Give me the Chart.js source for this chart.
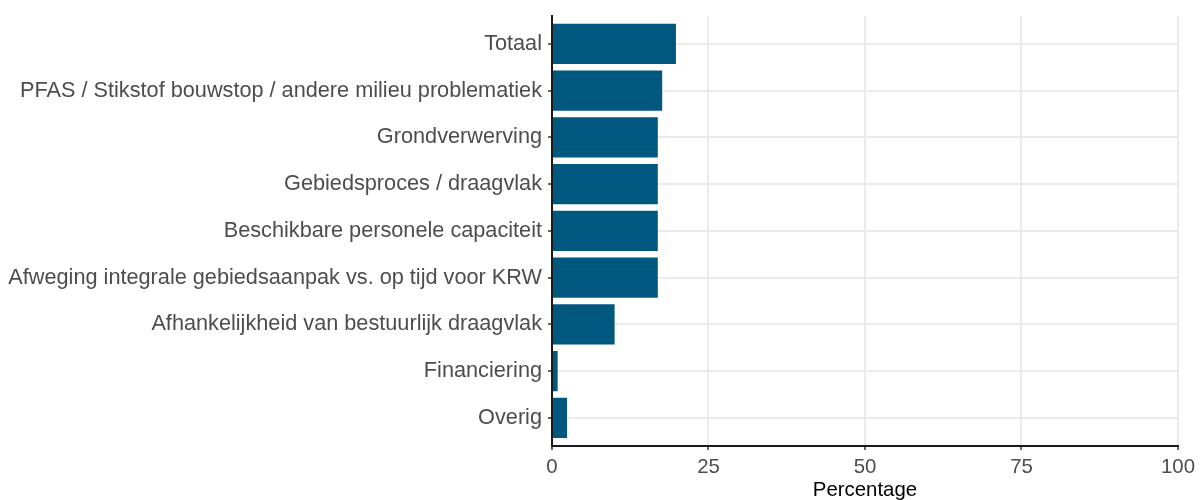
<!DOCTYPE html>
<html>
<head>
<meta charset="utf-8">
<script src="https://cdn.jsdelivr.net/npm/chart.js@4/dist/chart.umd.min.js"></script>
<style>
  html, body { margin: 0; padding: 0; background: #fff; }
  #wrap { width: 1200px; height: 500px; }
</style>
</head>
<body>
<div id="wrap"><canvas id="chart"></canvas></div>
<script>
// categories top to bottom
const categories = [
    "Totaal",
    "PFAS / Stikstof bouwstop / andere milieu problematiek",
    "Grondverwerving",
    "Gebiedsproces / draagvlak",
    "Beschikbare personele capaciteit",
    "Afweging integrale gebiedsaanpak vs. op tijd voor KRW",
    "Afhankelijkheid van bestuurlijk draagvlak",
    "Financiering",
    "Overig"
];
const percentages = [19.8, 17.6, 16.9, 16.9, 16.9, 16.9, 10.0, 0.9, 2.4];
const xTicks = [0, 25, 50, 75, 100];

const font = "'Liberation Sans', Arial, sans-serif";

let points = [];
for(let i = 0; i < categories.length; i++){
    points.push({x: percentages[i], y: i});
}

let context = document.getElementById("chart").getContext("2d");
let chart = new Chart(context, {
    type: "bar",
    data: {
        datasets: [{
            data: points,
            backgroundColor: "#00587f",
            borderWidth: 0,
            barPercentage: 0.86,
            categoryPercentage: 1
        }]
    },
    options: {
        indexAxis: "y",
        responsive: true,
        maintainAspectRatio: false,
        animation: false,
        layout: { padding: { top: 12, right: 18, left: 0, bottom: 0 } },
        plugins: { legend: { display: false }, tooltip: { enabled: false } },
        scales: {
            x: {
                type: "linear",
                min: 0,
                max: 100,
                offset: false,
                afterBuildTicks: function(scale){
                    scale.ticks = xTicks.map(v => ({value: v}));
                },
                afterFit: function(scale){ scale.height = 54; },
                grid: {
                    color: "#ebebeb",
                    lineWidth: 2,
                    offset: false,
                    drawTicks: true,
                    tickLength: 4,
                    tickColor: "#333333",
                    tickWidth: 1.5
                },
                border: { display: true, color: "#1a1a1a", width: 2 },
                ticks: {
                    color: "#4d4d4d",
                    font: { family: font, size: 20.4 },
                    padding: 5,
                    maxRotation: 0
                },
                title: {
                    display: true,
                    text: "Percentage",
                    color: "#000000",
                    font: { family: font, size: 20.4 },
                    padding: { top: 0, bottom: -3 }
                }
            },
            y: {
                type: "linear",
                reverse: true,
                offset: false,
                min: -0.6,
                max: categories.length - 1 + 0.6,
                afterBuildTicks: function(scale){
                    scale.ticks = categories.map((c, i) => ({value: i}));
                },
                afterFit: function(scale){ scale.width = 552; },
                grid: {
                    color: "#ebebeb",
                    lineWidth: 2,
                    offset: false,
                    drawTicks: true,
                    tickLength: 4,
                    tickColor: "#333333",
                    tickWidth: 1.5
                },
                border: { display: true, color: "#1a1a1a", width: 2 },
                ticks: {
                    color: "#4d4d4d",
                    font: { family: font, size: 21.7, lineHeight: 0.9 },
                    padding: 6,
                    callback: function(value){ return categories[value]; }
                }
            }
        }
    }
});
</script>
</body>
</html>
